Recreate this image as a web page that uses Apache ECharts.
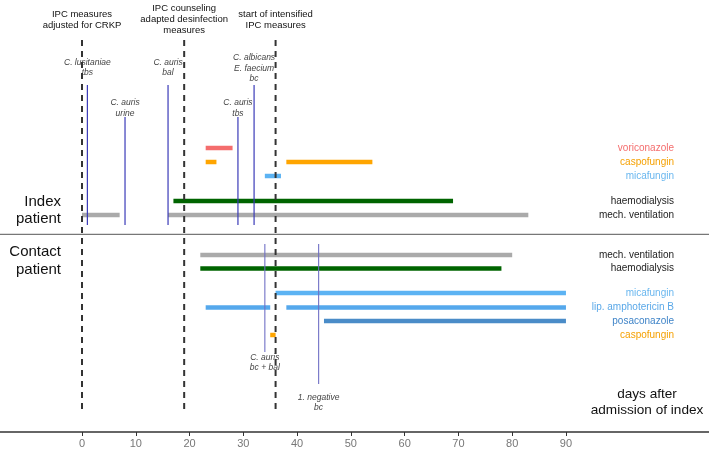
<!DOCTYPE html>
<html><head><meta charset="utf-8">
<script src="https://cdn.jsdelivr.net/npm/echarts@6/dist/echarts.min.js"></script>
<style>html,body{margin:0;padding:0;background:#fff}#c{width:709px;height:451px}</style>
</head><body><div id="c"></div>
<script>
// ---------- DATA ----------
const xTicks = [0, 10, 20, 30, 40, 50, 60, 70, 80, 90];
const measureDays = [0, 19, 36];
const measureLabels = ['IPC measures\nadjusted for CRKP', 'IPC counseling\nadapted desinfection\nmeasures', 'start of intensified\nIPC measures'];

const indexRowNames = ['voriconazole', 'caspofungin', 'micafungin', 'haemodialysis', 'mech. ventilation'];
const indexRowIntervals = [
  [[23, 28]],
  [[23, 25], [38, 54]],
  [[34, 37]],
  [[17, 69]],
  [[0, 7], [16, 83]]
];
const contactRowNames = ['mech. ventilation', 'haemodialysis', 'micafungin', 'lip. amphotericin B', 'posaconazole', 'caspofungin'];
const contactRowIntervals = [
  [[22, 80]],
  [[22, 78]],
  [[36, 90]],
  [[23, 35], [38, 90]],
  [[45, 90]],
  [[35, 36]]
];
const indexEventDays = [1, 8, 16, 29, 32];
const indexEventLabels = ['C. lusitaniae\ntbs', 'C. auris\nurine', 'C. auris\nbal', 'C. auris\ntbs', 'C. albicans\nE. faecium\nbc'];
const contactEventDays = [34, 44];
const contactEventLabels = ['C. auris\nbc + bal', '1. negative\nbc'];

// ---------- LAYOUT / STYLE ----------
const FONT = '"Liberation Sans", Arial, sans-serif';
const indexRowY = [148, 162, 176, 201, 215];
const contactRowY = [255, 268.5, 293, 307.5, 321, 335];
const indexBarColors = ['#f46d6d', '#ffa500', '#5cb3f3', '#006400', '#aaaaaa'];
const contactBarColors = ['#aaaaaa', '#006400', '#5cb3f3', '#55a8ec', '#4a8cc8', '#ffa500'];
const indexLabelColors = ['#f46d6d', '#f5a000', '#6ab7ef', '#222222', '#222222'];
const contactLabelColors = ['#222222', '#222222', '#6ab7ef', '#5aa8e8', '#3f84c8', '#f5a000'];
const indexEventLine = [[85, 225, 67.5], [117, 225, 108], [85, 225, 67.5], [117, 225, 108], [85, 225, 68.5]]; // top, bottom, label center
const contactEventLine = [[244, 352, 362.7], [244, 384, 402.7]];
const separatorY = 234.3;
const dashTop = 40, dashBottom = 412, titleY = 19.5;
const rowLabelX = 674;

// ---------- BUILD ----------
const barData = [];
indexRowIntervals.forEach((ivs, i) => ivs.forEach(iv => barData.push({ value: [iv[0], iv[1], indexRowY[i]], itemStyle: { color: indexBarColors[i] } })));
contactRowIntervals.forEach((ivs, i) => ivs.forEach(iv => barData.push({ value: [iv[0], iv[1], contactRowY[i]], itemStyle: { color: contactBarColors[i] } })));

const rowLabelData = [];
indexRowNames.forEach((n, i) => rowLabelData.push({ name: n, value: [0, indexRowY[i]], c: indexLabelColors[i] }));
contactRowNames.forEach((n, i) => rowLabelData.push({ name: n, value: [0, contactRowY[i]], c: contactLabelColors[i] }));

const eventData = [];
indexEventDays.forEach((d, i) => eventData.push({ name: indexEventLabels[i], value: [d, indexEventLine[i][0], indexEventLine[i][1], indexEventLine[i][2]], stroke: '#3a3ab8', op: 1 }));
contactEventDays.forEach((d, i) => eventData.push({ name: contactEventLabels[i], value: [d, contactEventLine[i][0], contactEventLine[i][1], contactEventLine[i][2]], stroke: '#6e6ec4', op: 0.9 }));

const measureData = measureDays.map((d, i) => ({ name: measureLabels[i], value: [d, dashTop, dashBottom] }));

const chart = echarts.init(document.getElementById('c'), null, { renderer: 'canvas' });
chart.setOption({
  animation: false,
  backgroundColor: '#fff',
  grid: { left: 0, right: 0, top: 0, bottom: 19 },
  xAxis: {
    type: 'value', min: -15.25, max: 116.6, position: 'bottom',
    splitLine: { show: false },
    axisLine: { show: true, onZero: false, lineStyle: { color: '#333', width: 1.5 } },
    axisTick: { show: true, customValues: xTicks, length: 4, lineStyle: { color: '#333', width: 1 } },
    axisLabel: { show: true, customValues: xTicks, color: '#777', fontSize: 11, fontFamily: FONT, margin: 6 }
  },
  yAxis: { type: 'value', min: 0, max: 432, inverse: true, show: false },
  graphic: [
    { type: 'text', x: 61, y: 210.5, style: { text: 'Index\npatient', align: 'right', verticalAlign: 'middle', fill: '#111', font: '15px ' + FONT, lineHeight: 17.6 } },
    { type: 'text', x: 61, y: 261, style: { text: 'Contact\npatient', align: 'right', verticalAlign: 'middle', fill: '#111', font: '15px ' + FONT, lineHeight: 18.3 } },
    { type: 'text', x: 647, y: 402, style: { text: 'days after\nadmission of index', align: 'center', verticalAlign: 'middle', fill: '#111', font: '13.6px ' + FONT, lineHeight: 16 } }
  ],
  series: [
    {
      type: 'custom', name: 'separator', data: [[0, separatorY]], encode: { x: 0, y: 1 }, silent: true,
      renderItem: (params, api) => {
        const p = api.coord([0, api.value(1)]);
        const cs = params.coordSys;
        return { type: 'line', shape: { x1: cs.x, y1: p[1], x2: cs.x + cs.width, y2: p[1] }, style: { stroke: '#777', lineWidth: 1.2 } };
      }
    },
    {
      type: 'custom', name: 'bars', data: barData, encode: { x: [0, 1], y: 2 }, silent: true, z: 2,
      renderItem: (params, api) => {
        const a = api.coord([api.value(0), api.value(2)]);
        const b = api.coord([api.value(1), api.value(2)]);
        return { type: 'line', shape: { x1: a[0], y1: a[1], x2: b[0], y2: b[1] }, style: { stroke: api.visual('color'), lineWidth: 4.5, lineCap: 'butt' } };
      }
    },
    {
      type: 'custom', name: 'rowLabels', data: rowLabelData, encode: { x: 0, y: 1 }, silent: true,
      renderItem: (params, api) => {
        const item = rowLabelData[params.dataIndex];
        const p = api.coord([0, api.value(1)]);
        return { type: 'text', x: rowLabelX, y: p[1], style: { text: item.name, align: 'right', verticalAlign: 'middle', fill: item.c, font: '10px ' + FONT } };
      }
    },
    {
      type: 'custom', name: 'events', data: eventData, encode: { x: 0, y: [1, 2] }, silent: true, z: 3,
      renderItem: (params, api) => {
        const item = eventData[params.dataIndex];
        const t = api.coord([api.value(0), api.value(1)]);
        const b = api.coord([api.value(0), api.value(2)]);
        const l = api.coord([api.value(0), api.value(3)]);
        return {
          type: 'group', children: [
            { type: 'line', shape: { x1: t[0], y1: t[1], x2: b[0], y2: b[1] }, style: { stroke: item.stroke, lineWidth: 1.2, opacity: item.op } },
            { type: 'text', x: l[0], y: l[1], style: { text: item.name, align: 'center', verticalAlign: 'middle', fill: '#444', font: 'italic 8.5px ' + FONT, lineHeight: 10.5 } }
          ]
        };
      }
    },
    {
      type: 'custom', name: 'measures', data: measureData, encode: { x: 0, y: [1, 2] }, silent: true, z: 4,
      renderItem: (params, api) => {
        const item = measureData[params.dataIndex];
        const t = api.coord([api.value(0), api.value(1)]);
        const b = api.coord([api.value(0), api.value(2)]);
        const ty = api.coord([api.value(0), titleY]);
        return {
          type: 'group', children: [
            { type: 'line', shape: { x1: t[0], y1: t[1], x2: b[0], y2: b[1] }, style: { stroke: '#333', lineWidth: 2, lineDash: [6, 5] } },
            { type: 'text', x: ty[0], y: ty[1], style: { text: item.name, align: 'center', verticalAlign: 'middle', fill: '#111', font: '9.5px ' + FONT, lineHeight: 11 } }
          ]
        };
      }
    }
  ]
});
</script></body></html>
